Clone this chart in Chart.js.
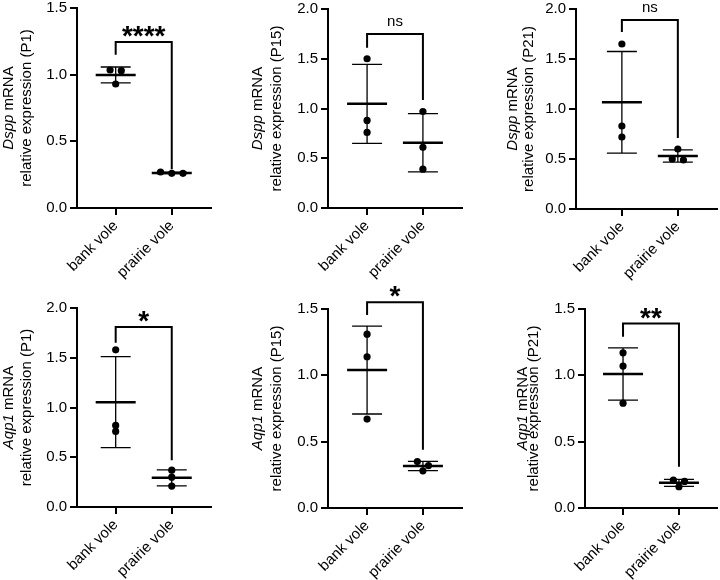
<!DOCTYPE html>
<html>
<head>
<meta charset="utf-8">
<script src="https://cdn.jsdelivr.net/npm/chart.js@4.4.1/dist/chart.umd.min.js"></script>
<style>
    html, body { margin: 0; padding: 0; background: #fff; width: 720px; height: 580px; overflow: hidden; position: relative; }
    canvas { position: absolute; }
</style>
</head>
<body>
<script>
    // groups on the x axis
    const categories = ['bank vole', 'prairie vole'];

    // one entry per panel, left to right, top row first
    const genes = ['Dspp', 'Dspp', 'Dspp', 'Aqp1', 'Aqp1', 'Aqp1'];
    const ages = ['P1', 'P15', 'P21', 'P1', 'P15', 'P21'];
    const yMax = [1.5, 2.0, 2.0, 2.0, 1.5, 1.5];

    // individual animals (relative expression)
    const bankVole = [
        [1.035, 1.03, 0.93],
        [1.50, 0.88, 0.76],
        [1.65, 0.83, 0.72],
        [1.58, 0.82, 0.76],
        [1.31, 1.14, 0.67],
        [1.17, 1.07, 0.79]
    ];
    const prairieVole = [
        [0.26, 0.27, 0.26],
        [0.97, 0.61, 0.39],
        [0.60, 0.49, 0.50],
        [0.37, 0.30, 0.21],
        [0.35, 0.32, 0.28],
        [0.21, 0.16, 0.20]
    ];

    // significance brackets (y values on each panel's axis)
    const significance = ['****', 'ns', 'ns', '*', '*', '**'];
    const bracketTop = [1.245, 1.75, 1.89, 1.81, 1.55, 1.39];
    const bracketLeftEnd = [1.15, 1.61, 1.77, 1.65, 1.455, 1.29];
    const bracketRightEnd = [0.29, 1.085, 0.71, 0.47, 0.44, 0.31];

    // where each plot area sits on the page
    const panels = [
        { area: [77, 8, 211, 208],   x: [0.31, 2.70], title: [68, 50] },
        { area: [328, 9, 462, 208],  x: [0.30, 2.70], title: [70, 51] },
        { area: [576, 9, 717, 209],  x: [0.18, 2.70], title: [63, 47] },
        { area: [77, 308, 211, 507], x: [0.31, 2.70], title: [68, 50] },
        { area: [328, 309, 462, 508], x: [0.30, 2.70], title: [70, 51] },
        { area: [585, 309, 717, 508], x: [0.32, 2.68], title: [62, 51] }
    ];

    const FONT = '"Liberation Sans", Arial, Helvetica, sans-serif';
    const Y_W = 40, X_H = 80;
    const M = { l: 90, t: 40, r: 12, b: 90 };

    const mean = a => a.reduce((s, v) => s + v, 0) / a.length;
    const sd = a => {
        const m = mean(a);
        return Math.sqrt(a.reduce((s, v) => s + (v - m) * (v - m), 0) / (a.length - 1));
    };

    // spread overlapping dots sideways, like a small beeswarm
    function spread(vals, max) {
        const thr = max * 0.025;
        const idx = vals.map((v, i) => i).sort((a, b) => vals[b] - vals[a]);
        const off = new Array(vals.length).fill(0);
        let start = 0;
        for (let k = 1; k <= idx.length; k++) {
            if (k === idx.length || vals[idx[k - 1]] - vals[idx[k]] > thr) {
                const n = k - start;
                for (let j = 0; j < n; j++) off[idx[start + j]] = (j - (n - 1) / 2) * 0.2;
                start = k;
            }
        }
        return off;
    }

    const summaryPlugin = {
        id: 'summary',
        beforeDatasetsDraw(chart, args, opts) {
            const i = opts.panel;
            const ctx = chart.ctx, xs = chart.scales.x, ys = chart.scales.y;
            ctx.save();
            ctx.strokeStyle = '#000';
            [bankVole[i], prairieVole[i]].forEach((vals, g) => {
                const m = mean(vals), s = sd(vals);
                const cx = xs.getPixelForValue(g + 1);
                const yT = ys.getPixelForValue(m + s), yB = ys.getPixelForValue(m - s), yM = ys.getPixelForValue(m);
                ctx.lineWidth = 1.3;
                ctx.beginPath();
                ctx.moveTo(cx, yT); ctx.lineTo(cx, yB);
                ctx.moveTo(cx - 15, yT); ctx.lineTo(cx + 15, yT);
                ctx.moveTo(cx - 15, yB); ctx.lineTo(cx + 15, yB);
                ctx.stroke();
                ctx.lineWidth = 2.5;
                ctx.beginPath();
                ctx.moveTo(cx - 20, yM); ctx.lineTo(cx + 20, yM);
                ctx.stroke();
            });
            ctx.restore();
        },
        afterDraw(chart, args, opts) {
            const i = opts.panel;
            const ctx = chart.ctx, xs = chart.scales.x, ys = chart.scales.y, area = chart.chartArea;
            ctx.save();
            // bracket
            const x1 = xs.getPixelForValue(1), x2 = xs.getPixelForValue(2);
            const yTop = ys.getPixelForValue(bracketTop[i]);
            ctx.strokeStyle = '#000';
            ctx.lineWidth = 2;
            ctx.lineJoin = 'miter';
            ctx.beginPath();
            ctx.moveTo(x1, ys.getPixelForValue(bracketLeftEnd[i]));
            ctx.lineTo(x1, yTop);
            ctx.lineTo(x2, yTop);
            ctx.lineTo(x2, ys.getPixelForValue(bracketRightEnd[i]));
            ctx.stroke();
            ctx.fillStyle = '#000';
            ctx.textAlign = 'center';
            if (significance[i] === 'ns') {
                ctx.font = '15px ' + FONT;
                ctx.textBaseline = 'middle';
                ctx.fillText('ns', (x1 + x2) / 2, yTop - 12);
            } else {
                ctx.font = 'bold 28px ' + FONT;
                ctx.textBaseline = 'alphabetic';
                ctx.fillText(significance[i], (x1 + x2) / 2, yTop + 3);
            }
            // y axis title, two lines, gene name in italics
            const p = panels[i];
            const cy = (area.top + area.bottom) / 2;
            ctx.translate(area.left - p.title[0], cy);
            ctx.rotate(-Math.PI / 2);
            ctx.textBaseline = 'middle';
            ctx.textAlign = 'left';
            ctx.font = 'italic 15px ' + FONT;
            const gw = ctx.measureText(genes[i]).width;
            ctx.font = '15px ' + FONT;
            const rest = ' mRNA';
            const rw = ctx.measureText(rest).width;
            let sx = -(gw + rw) / 2;
            ctx.font = 'italic 15px ' + FONT;
            ctx.fillText(genes[i], sx, 0);
            ctx.font = '15px ' + FONT;
            ctx.fillText(rest, sx + gw, 0);
            ctx.textAlign = 'center';
            ctx.fillText('relative expression (' + ages[i] + ')', 0, p.title[0] - p.title[1]);
            ctx.restore();
        }
    };

    panels.forEach((p, i) => {
        const [l, t, r, b] = p.area;
        const canvas = document.createElement('canvas');
        const w = r - l + M.l + M.r, h = b - t + M.t + M.b;
        canvas.width = w; canvas.height = h;
        canvas.style.left = (l - M.l) + 'px';
        canvas.style.top = (t - M.t) + 'px';
        canvas.style.width = w + 'px';
        canvas.style.height = h + 'px';
        document.body.appendChild(canvas);

        const groups = [bankVole[i], prairieVole[i]];
        const datasets = groups.map((vals, g) => {
            const off = spread(vals, yMax[i]);
            return {
                label: categories[g],
                data: vals.map((v, k) => ({ x: g + 1 + off[k], y: v })),
                pointRadius: 3.6,
                pointHoverRadius: 3.6,
                pointBackgroundColor: '#000',
                pointBorderColor: '#000',
                pointBorderWidth: 0,
                showLine: false
            };
        });

        new Chart(canvas.getContext('2d'), {
            type: 'scatter',
            data: { datasets },
            plugins: [summaryPlugin],
            options: {
                responsive: false,
                animation: false,
                clip: false,
                layout: { padding: { left: M.l - Y_W, top: M.t, right: M.r, bottom: M.b - X_H } },
                plugins: {
                    legend: { display: false },
                    tooltip: { enabled: false },
                    summary: { panel: i }
                },
                scales: {
                    x: {
                        type: 'linear',
                        min: p.x[0],
                        max: p.x[1],
                        afterBuildTicks: s => { s.ticks = [{ value: 1 }, { value: 2 }]; },
                        afterFit: s => { s.height = X_H; },
                        ticks: {
                            minRotation: 45,
                            maxRotation: 45,
                            padding: 2,
                            color: '#000',
                            font: { family: FONT, size: 15 },
                            callback: v => categories[v - 1]
                        },
                        grid: { drawOnChartArea: false, drawTicks: true, tickLength: 7, color: '#000', lineWidth: 2 },
                        border: { display: true, color: '#000', width: 2 }
                    },
                    y: {
                        min: 0,
                        max: yMax[i],
                        afterFit: s => { s.width = Y_W; },
                        ticks: {
                            stepSize: 0.5,
                            padding: 3,
                            color: '#000',
                            font: { family: FONT, size: 15 },
                            callback: v => v.toFixed(1)
                        },
                        grid: { drawOnChartArea: false, drawTicks: true, tickLength: 7, color: '#000', lineWidth: 2 },
                        border: { display: true, color: '#000', width: 2 }
                    }
                }
            }
        });
    });
</script>
</body>
</html>
